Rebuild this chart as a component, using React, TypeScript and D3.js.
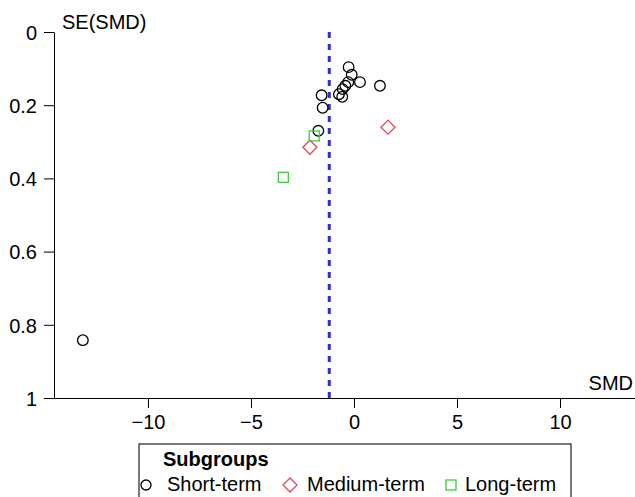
import { useRef, useEffect } from 'react'
import * as d3 from 'd3'

// study estimates (SMD, SE) per subgroup
const shortSmd = [-0.26, -0.11, 0.29, 1.26, -0.28, -0.42, -0.55, -0.73, -0.57, -1.57, -1.52, -1.73, -13.16]
const shortSe = [0.096, 0.117, 0.137, 0.147, 0.137, 0.147, 0.156, 0.170, 0.177, 0.173, 0.207, 0.270, 0.842]
const mediumSmd = [-2.14, 1.65]
const mediumSe = [0.315, 0.260]
const longSmd = [-1.93, -3.43]
const longSe = [0.284, 0.397]
const pooledSmd = -1.2

const xTicks = [-10, -5, 0, 5, 10]
const yTicks = [0, 0.2, 0.4, 0.6, 0.8, 1]
const legendLabels = ['Short-term', 'Medium-term', 'Long-term']

const RED = '#DF4B55'
const GREEN = '#3CCB3C'
const BLUE = '#3030CC'

export default function App() {
  const svgRef = useRef<SVGSVGElement>(null)

  useEffect(() => {
    const w = 635
    const h = 497
    const svg = d3.select(svgRef.current)
    svg.selectAll('*').remove()
    svg.attr('width', w).attr('height', h)

    //scaling
    const xScale = d3.scaleLinear().domain([-14.56, 13.64]).range([54, 635])
    const yScale = d3.scaleLinear().domain([0, 1]).range([32, 398])

    const font = 'Liberation Sans, Arial, sans-serif'

    //axes
    const xAxis = d3.axisBottom(xScale)
      .tickValues(xTicks)
      .tickSize(10)
      .tickSizeOuter(0)
      .tickPadding(8)
    const gx = svg.append('g')
      .attr('transform', `translate(0, ${yScale(1)})`)
      .call(xAxis)
    gx.selectAll('text').attr('font-size', 20).attr('font-family', font).attr('dy', '0.65em').attr('fill', '#000')
    gx.selectAll('line, path').attr('stroke', '#000')

    const yAxis = d3.axisLeft(yScale)
      .tickValues(yTicks)
      .tickSize(10)
      .tickSizeOuter(0)
      .tickPadding(7)
      .tickFormat(d => String(d))
    const gy = svg.append('g')
      .attr('transform', `translate(${xScale.range()[0]}, 0)`)
      .call(yAxis)
    gy.selectAll('text').attr('font-size', 20).attr('font-family', font).attr('dy', '0.36em').attr('fill', '#000')
    gy.selectAll('line, path').attr('stroke', '#000')

    svg.append('text')
      .attr('x', 62).attr('y', 29)
      .attr('font-size', 20).attr('font-family', font)
      .text('SE(SMD)')
    svg.append('text')
      .attr('x', 633).attr('y', 390)
      .attr('text-anchor', 'end')
      .attr('font-size', 20).attr('font-family', font)
      .text('SMD')

    //pooled estimate
    svg.append('line')
      .attr('x1', xScale(pooledSmd)).attr('x2', xScale(pooledSmd))
      .attr('y1', yScale(0)).attr('y2', yScale(1))
      .attr('stroke', BLUE)
      .attr('stroke-width', 3)
      .attr('stroke-dasharray', '6,6')

    //data
    svg.selectAll('.short')
      .data(shortSmd)
      .join('circle')
        .attr('cx', d => xScale(d))
        .attr('cy', (d, i) => yScale(shortSe[i]))
        .attr('r', 5.3)
        .attr('fill', 'none')
        .attr('stroke', '#000')
        .attr('stroke-width', 1.3)

    svg.selectAll('.medium')
      .data(mediumSmd)
      .join('path')
        .attr('d', d3.symbol(d3.symbolSquare, 98)())
        .attr('transform', (d, i) => `translate(${xScale(d)}, ${yScale(mediumSe[i])}) rotate(45)`)
        .attr('fill', 'none')
        .attr('stroke', RED)
        .attr('stroke-width', 1.3)

    svg.selectAll('.long')
      .data(longSmd)
      .join('rect')
        .attr('x', d => xScale(d) - 5)
        .attr('y', (d, i) => yScale(longSe[i]) - 5)
        .attr('width', 10)
        .attr('height', 10)
        .attr('fill', 'none')
        .attr('stroke', GREEN)
        .attr('stroke-width', 1.3)

    //legend
    const lg = svg.append('g')
    lg.append('rect')
      .attr('x', 139).attr('y', 444)
      .attr('width', 432).attr('height', 70)
      .attr('fill', 'none')
      .attr('stroke', '#222')
      .attr('stroke-width', 1.2)
    lg.append('text')
      .attr('x', 163).attr('y', 466)
      .attr('font-size', 20).attr('font-weight', 'bold').attr('font-family', font)
      .text('Subgroups')

    const symX = [146, 290, 451]
    const textX = [167, 307, 465]
    const rowY = 485
    lg.append('circle').attr('cx', symX[0]).attr('cy', rowY).attr('r', 5)
      .attr('fill', 'none').attr('stroke', '#000').attr('stroke-width', 1.3)
    lg.append('path').attr('d', d3.symbol(d3.symbolSquare, 98)())
      .attr('transform', `translate(${symX[1]}, ${rowY}) rotate(45)`)
      .attr('fill', 'none').attr('stroke', RED).attr('stroke-width', 1.3)
    lg.append('rect').attr('x', symX[2] - 5).attr('y', rowY - 5).attr('width', 10).attr('height', 10)
      .attr('fill', 'none').attr('stroke', GREEN).attr('stroke-width', 1.3)
    lg.selectAll('.lab')
      .data(legendLabels)
      .join('text')
        .attr('x', (d, i) => textX[i])
        .attr('y', 491)
        .attr('font-size', 20).attr('font-family', font)
        .text(d => d)
  }, [])

  return (
    <div style={{ position: 'absolute', left: 0, top: 0 }}>
      <svg ref={svgRef} style={{ display: 'block', background: '#fff' }}></svg>
    </div>
  )
}
